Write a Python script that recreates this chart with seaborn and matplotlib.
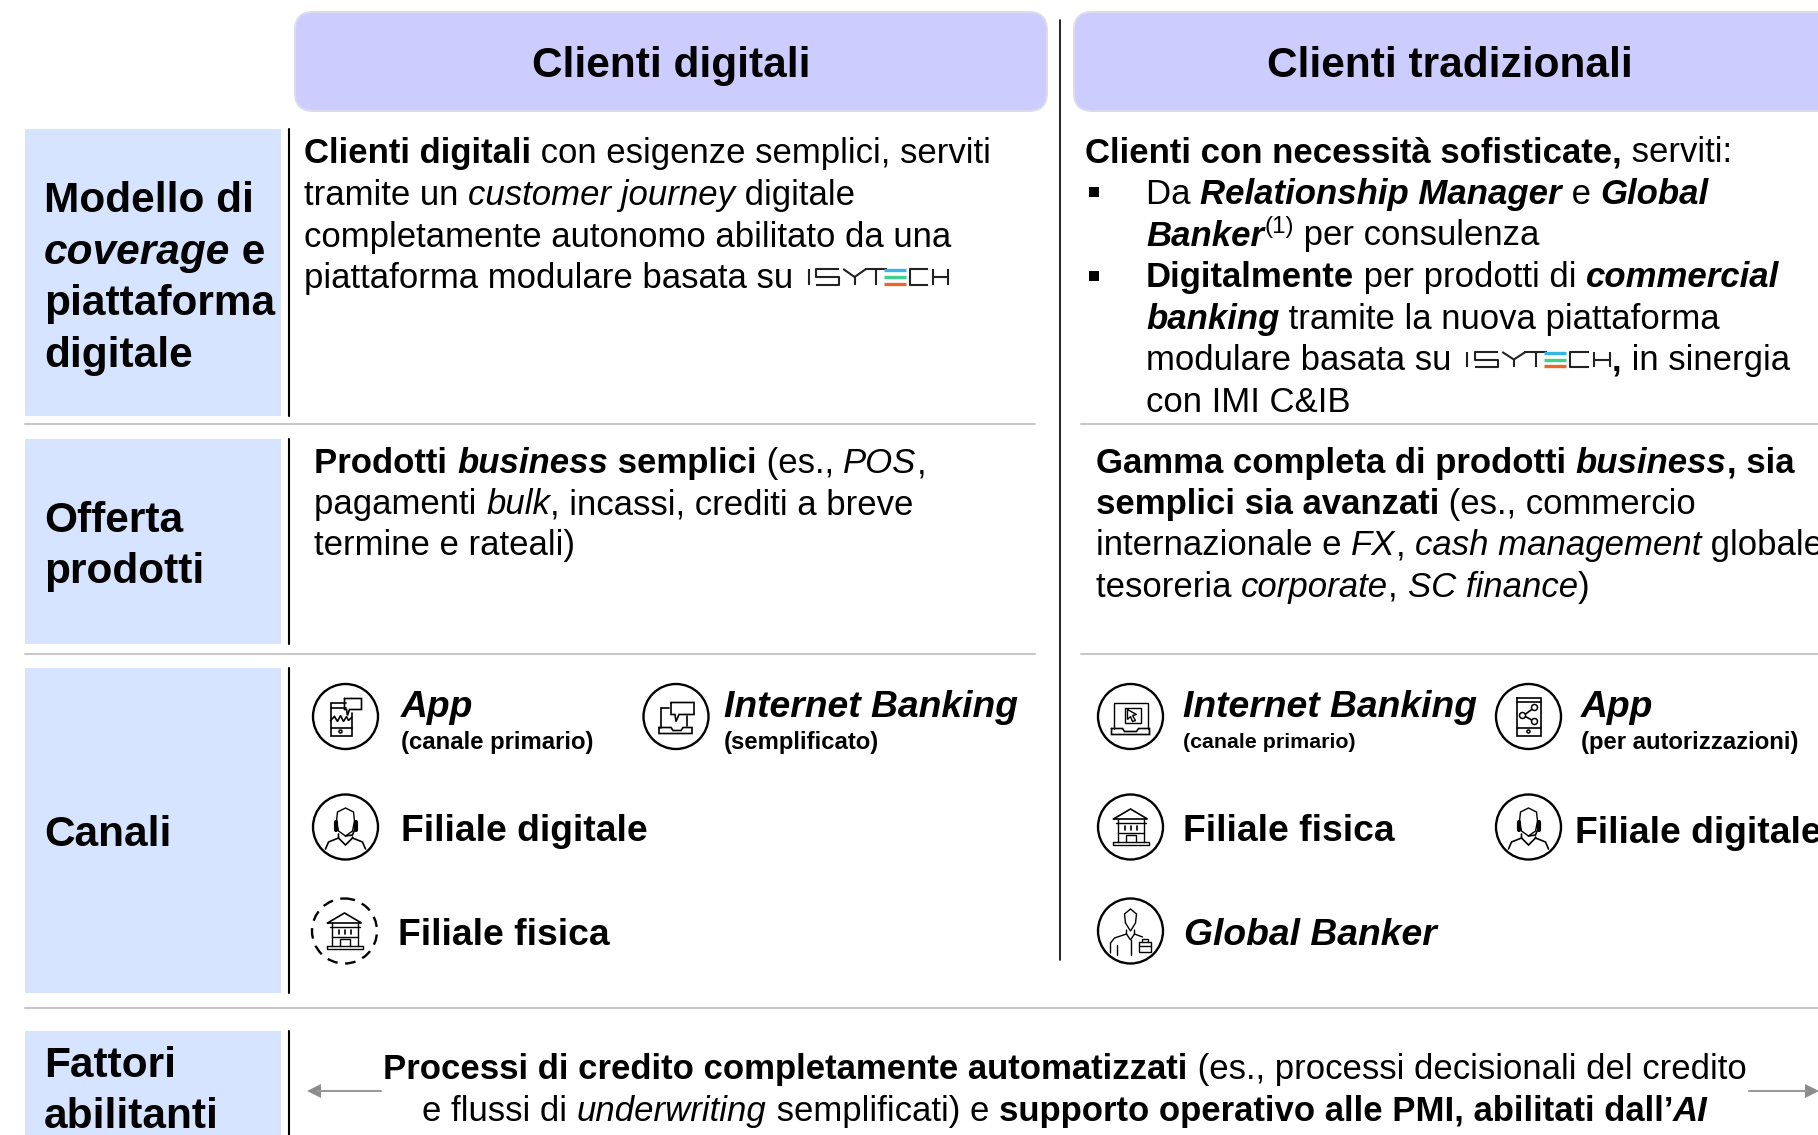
import matplotlib
matplotlib.use("Agg")
import seaborn as sns
from matplotlib import pyplot as plt
from matplotlib.patches import Circle, FancyBboxPatch, Polygon, Rectangle

# slide text
headers = ["Clienti digitali", "Clienti tradizionali"]
row_labels = [
    [[("Modello di", "b")], [("coverage", "bi"), (" e", "b")], [("piattaforma", "b")], [("digitale", "b")]],
    [[("Offerta", "b")], [("prodotti", "b")]],
    [[("Canali", "b")]],
    [[("Fattori", "b")], [("abilitanti", "b")]],
]
model_left = [
    [("Clienti digitali", "b"), (" con esigenze semplici, serviti", "r")],
    [("tramite un ", "r"), ("customer journey", "i"), (" digitale", "r")],
    [("completamente autonomo abilitato da una", "r")],
    [("piattaforma modulare basata su ", "r"), ("", "logo")],
]
model_right_head = [("Clienti con necessità sofisticate,", "b"), (" serviti:", "r")]
model_right = [
    [("Da ", "r"), ("Relationship Manager", "bi"), (" e ", "r"), ("Global", "bi")],
    [("Banker", "bi"), ("(1)", "sup"), (" per consulenza", "r")],
    [("Digitalmente", "b"), (" per prodotti di ", "r"), ("commercial", "bi")],
    [("banking", "bi"), (" tramite la nuova piattaforma", "r")],
    [("modulare basata su ", "r"), ("", "logo"), (",", "b"), (" in sinergia", "r")],
    [("con IMI C&IB", "r")],
]
offer_left = [
    [("Prodotti ", "b"), ("business", "bi"), (" semplici", "b"), (" (es., ", "r"), ("POS", "i"), (",", "r")],
    [("pagamenti ", "r"), ("bulk", "i"), (", incassi, crediti a breve", "r")],
    [("termine e rateali)", "r")],
]
offer_right = [
    [("Gamma completa di prodotti ", "b"), ("business", "bi"), (", sia", "b")],
    [("semplici sia avanzati", "b"), (" (es., commercio", "r")],
    [("internazionale e ", "r"), ("FX", "i"), (", ", "r"), ("cash management", "i"), (" globale", "r")],
    [("tesoreria ", "r"), ("corporate", "i"), (", ", "r"), ("SC finance", "i"), (")", "r")],
]
enablers = [
    [("Processi di credito completamente automatizzati", "b"), (" (es., processi decisionali del credito", "r")],
    [("e flussi di ", "r"), ("underwriting", "i"), (" semplificati) e ", "r"),
     ("supporto operativo alle PMI, abilitati dall’", "b"), ("AI", "bi")],
]

BLUE = "#d6e4ff"
LILAC = "#ccccff"
GREY = "#c9c9c9"

sns.set_theme(style="white")
plt.rcParams["font.family"] = ["Liberation Sans", "DejaVu Sans"]
plt.rcParams["text.color"] = "black"

fig = plt.figure(figsize=(18.18, 11.35), dpi=100)
ax = fig.add_axes([0, 0, 1, 1])
ax.set_xlim(0, 1818)
ax.set_ylim(1135, 0)
ax.axis("off")
renderer = fig.canvas.get_renderer()


def font_args(style):
    return {
        "fontweight": "bold" if "b" in style else "normal",
        "fontstyle": "italic" if "i" in style else "normal",
    }


def text_w(s, size, style):
    t1 = ax.text(0, 0, "x" + s + "x", fontsize=size, **font_args(style))
    t2 = ax.text(0, 0, "xx", fontsize=size, **font_args(style))
    w = t1.get_window_extent(renderer).width - t2.get_window_extent(renderer).width
    t1.remove()
    t2.remove()
    return w


def isytech(x, base, w=144, h=15):
    top = base - h
    mid = base - h / 2

    def line(xs, ys, c="#222222", lw=1.5):
        ax.plot([x + v * w for v in xs], ys, color=c, lw=lw, solid_capstyle="butt")

    line([0.01, 0.01], [top, base])
    line([0.22, 0.06, 0.06, 0.22, 0.22, 0.06], [top, top, mid, mid, base, base])
    line([0.25, 0.33, 0.41], [top, mid, top])
    line([0.33, 0.33], [mid, base])
    line([0.40, 0.56], [top, top])
    line([0.48, 0.48], [top, base])
    line([0.54, 0.69], [top + 1, top + 1], "#35b6e6", 2.4)
    line([0.54, 0.69], [mid, mid], "#3fd18e", 2.4)
    line([0.54, 0.69], [base - 1, base - 1], "#e8672a", 2.4)
    line([0.85, 0.72, 0.72, 0.85], [top, top, base, base])
    line([0.88, 0.88], [top, base])
    line([0.99, 0.99], [top, base])
    line([0.88, 0.99], [mid, mid])


def draw_runs(x, base, runs, size, logo_w=144, logo_h=15):
    for s, style in runs:
        if style == "logo":
            isytech(x + 5, base - 3, logo_w, logo_h)
            x += logo_w + 6
        elif style == "sup":
            ax.text(x, base - 12, s, fontsize=size * 0.7, va="baseline")
            x += text_w(s, size * 0.7, "r")
        else:
            ax.text(x, base, s, fontsize=size, va="baseline", color="black", **font_args(style))
            x += text_w(s, size, style)


def draw_centered(xc, base, runs, size):
    total = sum(text_w(s, size, st) for s, st in runs)
    draw_runs(xc - total / 2, base, runs, size)


def poly(cx, cy, pts, lw=1.2, closed=False, **kw):
    pts = list(pts) + ([pts[0]] if closed else [])
    ax.plot([cx + p[0] for p in pts], [cy + p[1] for p in pts], color="black", lw=lw,
            solid_joinstyle="miter", **kw)


def ring(cx, cy, r=32.5, ls="-", lw=1.7):
    ax.add_patch(Circle((cx, cy), r, fill=False, ec="black", lw=lw, ls=ls))


def small_circle(cx, cy, r, lw=1.1):
    ax.add_patch(Circle((cx, cy), r, fc="white", ec="black", lw=lw, zorder=3))


def icon_phone_chat(cx, cy):
    ring(cx, cy)
    poly(cx, cy, [(0, -14), (-15, -14), (-15, 19), (6, 19), (6, -4)])
    poly(cx, cy, [(-15, -9), (0, -9)])
    poly(cx, cy, [(-15, 11), (6, 11)])
    poly(cx, cy, [(-15, 4), (-11, 0), (-8, 5), (-5, -1), (-2, 5), (1, 0), (3, 4), (6, 1)])
    poly(cx, cy, [(-1, -18), (16, -18), (16, -7), (4, -7), (2, -1), (1, -7), (-1, -7)], closed=True)
    small_circle(cx - 5, cy + 15, 1.5)


def icon_laptop_chat(cx, cy):
    ring(cx, cy)
    poly(cx, cy, [(-15, 11), (-15, -9), (-7, -9)])
    poly(cx, cy, [(11, -1), (11, 9)])
    poly(cx, cy, [(-5, -14), (18, -14), (18, -2), (3, -2), (0, 5), (-1, -2), (-5, -2)], closed=True)
    poly(cx, cy, [(-17, 11), (-5, 11), (-3, 14), (5, 14), (7, 11), (16, 11), (16, 17), (-17, 17)], closed=True)


def icon_agent(cx, cy):
    ring(cx, cy)
    t = [(-9, -6), (-8, -15), (0, -19), (8, -15), (9, -6), (7, 4), (0, 9), (-7, 4)]
    poly(cx, cy, t, closed=True, lw=1.0)
    poly(cx, cy, [(-10, -5), (-10, 3)], lw=3)
    poly(cx, cy, [(10, -5), (10, 3)], lw=3)
    poly(cx, cy, [(9, 3), (7, 8), (0, 9)])
    poly(cx, cy, [(-7, 7), (-7, 11), (-17, 15), (-20, 22)])
    poly(cx, cy, [(7, 10), (7, 11), (17, 15), (20, 22)])
    poly(cx, cy, [(-7, 11), (0, 18), (7, 11)])


def icon_bank(cx, cy):
    poly(cx, cy, [(-17, -8), (0, -18), (17, -8)], closed=True, lw=1.2)
    poly(cx, cy, [(-13, -8), (-13, 15)], lw=1.0)
    poly(cx, cy, [(13, -8), (13, 15)], lw=1.0)
    poly(cx, cy, [(-15, -4), (15, -4)], lw=1.0)
    for dx in (-6, 0, 6):
        poly(cx, cy, [(dx, -1), (dx, 3)], lw=1.2)
    poly(cx, cy, [(-13, 6), (13, 6)], lw=1.0)
    poly(cx, cy, [(-5, 15), (-5, 8), (5, 8), (5, 15)], lw=1.0)
    poly(cx, cy, [(-18, 15), (18, 15), (18, 18), (-18, 18)], closed=True, lw=1.0)


def icon_laptop_cursor(cx, cy):
    ring(cx, cy)
    poly(cx, cy, [(-17, 12), (-17, -14), (17, -14), (17, 12)], lw=1.0)
    poly(cx, cy, [(-6, -9), (10, -9), (10, 6), (-6, 6)], closed=True, lw=1.0)
    poly(cx, cy, [(-3, -7), (6, -2), (2, -1), (5, 4), (2, 5), (0, 0), (-3, 3)], closed=True, lw=1.0)
    poly(cx, cy, [(-19, 12), (-8, 12), (-6, 15), (6, 15), (8, 12), (19, 12), (19, 18), (-19, 18)], closed=True)


def icon_phone_share(cx, cy):
    ring(cx, cy)
    poly(cx, cy, [(-12, -19), (12, -19), (12, 19), (-12, 19)], closed=True)
    poly(cx, cy, [(-12, -15), (12, -15)])
    poly(cx, cy, [(-12, 11), (12, 11)])
    poly(cx, cy, [(6, -9), (-5, -1), (6, 5)])
    small_circle(cx + 6, cy - 9, 3)
    small_circle(cx - 6, cy - 1, 3)
    small_circle(cx + 6, cy + 5, 3)
    small_circle(cx, cy + 15, 1.5)


def icon_banker(cx, cy):
    ring(cx, cy)
    t = [(-5, -8), (-6, -17), (0, -22), (6, -17), (5, -8), (0, 0)]
    poly(cx, cy, t, closed=True, lw=1.0)
    poly(cx, cy, [(-4, -1), (-4, 3), (-16, 7), (-20, 12), (-20, 22)], lw=1.0)
    poly(cx, cy, [(4, -1), (4, 3), (12, 6)], lw=1.0)
    poly(cx, cy, [(-4, 3), (0, 9), (4, 3)], lw=1.0)
    poly(cx, cy, [(0, 9), (0, 24)], lw=1.0)
    poly(cx, cy, [(-14, 14), (-14, 24)], lw=1.0)
    poly(cx, cy, [(8, 11), (20, 11), (20, 21), (8, 21)], closed=True, lw=1.0)
    poly(cx, cy, [(11, 11), (11, 8), (17, 8), (17, 11)], lw=1.0)
    poly(cx, cy, [(8, 15), (20, 15)], lw=1.0)


# header boxes
for x0, x1, name, xc in [(295, 1047, headers[0], 671), (1074, 1850, headers[1], 1450)]:
    ax.add_patch(FancyBboxPatch((x0, 12), x1 - x0, 99, boxstyle="round,pad=0,rounding_size=18",
                                fc=LILAC, ec="#dcdcec", lw=1.4))
    ax.text(xc, 66, name, fontsize=30.5, fontweight="bold", ha="center", va="center")

# row boxes with black rules
row_tops = [129, 439, 668, 1031]
row_bottoms = [416, 644, 993, 1145]
for top, bottom in zip(row_tops, row_bottoms):
    ax.add_patch(Rectangle((25, top), 256, bottom - top, fc=BLUE, ec="none"))
    ax.plot([289, 289], [top, bottom], color="black", lw=1.5)

label_bases = [[212, 264, 315.5, 366.5], [532, 583], [846.5], [1077, 1128]]
for lines, bases in zip(row_labels, label_bases):
    for runs, b in zip(lines, bases):
        draw_runs(44, b, runs, 30.5)

# separators
ax.plot([1060, 1060], [20, 960], color="black", lw=1.2)
for y in (424, 654):
    ax.plot([25, 1035], [y, y], color=GREY, lw=1.5)
    ax.plot([1081, 1818], [y, y], color=GREY, lw=1.5)
ax.plot([25, 1818], [1008, 1008], color=GREY, lw=1.5)

BODY = 25
CHANNEL = 26.8
line_h = 41.5

# coverage row
for i, runs in enumerate(model_left):
    draw_runs(304, 163.5 + i * line_h, runs, BODY, 142, 16)
draw_runs(1085, 162.5, model_right_head, BODY)
for i, runs in enumerate(model_right):
    draw_runs(1146, 204 + i * line_h, runs, BODY, 145, 15)
for b in (205, 288.5):
    ax.add_patch(Rectangle((1088.5, b - 18), 10, 10, fc="black", ec="none"))

# product row
for i, runs in enumerate(offer_left):
    draw_runs(314.5, 473 + i * 41.2, runs, BODY)
for i, runs in enumerate(offer_right):
    draw_runs(1096, 473 + i * 41.2, runs, BODY)

# channels, left
icon_phone_chat(345.5, 716.5)
draw_runs(401, 717, [("App", "bi")], CHANNEL)
draw_runs(401, 749, [("(canale primario)", "b")], 17.2)
icon_laptop_chat(676, 716.5)
draw_runs(724.5, 717, [("Internet Banking", "bi")], CHANNEL)
draw_runs(724, 749, [("(semplificato)", "b")], 17.2)
icon_agent(345.5, 827)
draw_runs(401, 841, [("Filiale digitale", "b")], CHANNEL)
ring(344.5, 931, ls=(0, (4.5, 3.2)))
icon_bank(344.5, 931)
draw_runs(398, 945, [("Filiale fisica", "b")], CHANNEL)

# channels, right
icon_laptop_cursor(1130.5, 716.5)
draw_runs(1183, 717, [("Internet Banking", "bi")], CHANNEL)
draw_runs(1183, 748, [("(canale primario)", "b")], 15.4)
icon_phone_share(1528.5, 716.5)
draw_runs(1581, 717, [("App", "bi")], CHANNEL)
draw_runs(1581, 749, [("(per autorizzazioni)", "b")], 17.2)
ring(1130.5, 827)
icon_bank(1130.5, 827)
draw_runs(1183, 841, [("Filiale fisica", "b")], CHANNEL)
icon_agent(1528.5, 827)
draw_runs(1575, 843, [("Filiale digitale", "b")], CHANNEL)
icon_banker(1130.5, 931)
draw_runs(1184, 945, [("Global Banker", "bi")], CHANNEL)

# enablers row
draw_centered(1065, 1079, enablers[0], BODY)
draw_centered(1065, 1121, enablers[1], BODY)
ax.plot([381, 318], [1091, 1091], color="#999999", lw=1.5)
ax.add_patch(Polygon([(307, 1091), (321, 1084), (321, 1098)], fc="#8c8c8c", ec="none"))
ax.plot([1749, 1807], [1091, 1091], color="#999999", lw=1.5)
ax.add_patch(Polygon([(1819, 1091), (1805, 1084), (1805, 1098)], fc="#8c8c8c", ec="none"))

fig.savefig("out.png", dpi=100)
